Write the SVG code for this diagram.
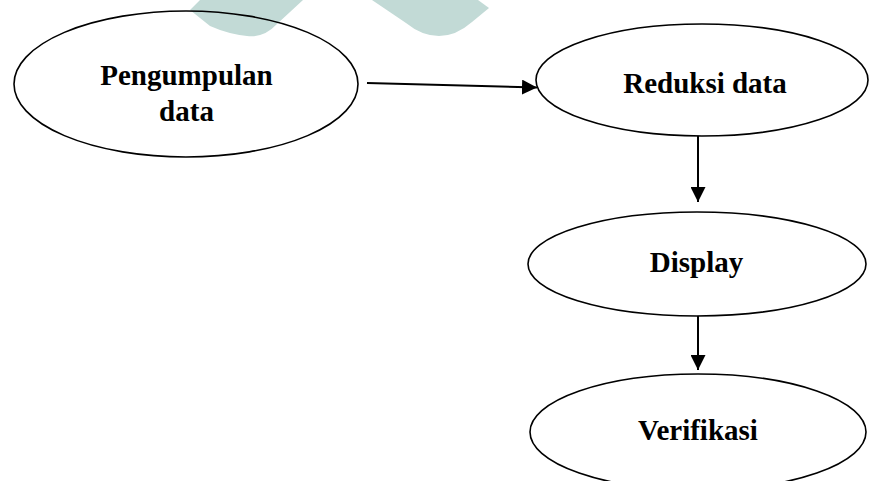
<svg xmlns="http://www.w3.org/2000/svg" width="870" height="481" viewBox="0 0 870 481">
<style>
.node ellipse{fill:none;stroke:#000;stroke-width:1.6}
.label{font-family:"Liberation Serif","Times New Roman",serif;font-weight:bold;font-size:29px;fill:#000;text-anchor:middle}
.conn{stroke:#000;stroke-width:2;fill:none}
.wm{fill:#c2dad6}
</style>
<defs>
<marker id="ah" markerWidth="16" markerHeight="15" refX="15" refY="7.5" orient="auto" markerUnits="userSpaceOnUse">
<path d="M0,0 L15,7.5 L0,15 Z" fill="#000"/>
</marker>
</defs>
<rect width="870" height="481" fill="#fff"/>
<g id="watermark">
<path class="wm" d="M200,0 L303,0 L277,24 Q264,38 247,36 Q228,34 210,26 L190,10 Z"/>
<path class="wm" d="M372,0 L478,0 L489,8 L472,22 Q456,36 439,36 Q422,36 406,23 Z"/>
</g>
<g id="connectors">
<line class="conn" x1="367" y1="83" x2="537" y2="87.5" marker-end="url(#ah)"/>
<line class="conn" x1="698" y1="136" x2="698" y2="202" marker-end="url(#ah)"/>
<line class="conn" x1="698" y1="316" x2="698" y2="370" marker-end="url(#ah)"/>
</g>
<g id="node-pengumpulan" class="node">
<ellipse cx="186" cy="84" rx="172" ry="73"/>
<text class="label" x="186.5" y="85">Pengumpulan</text>
<text class="label" x="186.5" y="121">data</text>
</g>
<g id="node-reduksi" class="node">
<ellipse cx="702" cy="80" rx="166" ry="56"/>
<text class="label" x="705" y="93">Reduksi data</text>
</g>
<g id="node-display" class="node">
<ellipse cx="697" cy="264" rx="169" ry="52"/>
<text class="label" x="696.5" y="272">Display</text>
</g>
<g id="node-verifikasi" class="node">
<ellipse cx="698" cy="432" rx="168" ry="58"/>
<text class="label" x="698" y="440">Verifikasi</text>
</g>
</svg>
